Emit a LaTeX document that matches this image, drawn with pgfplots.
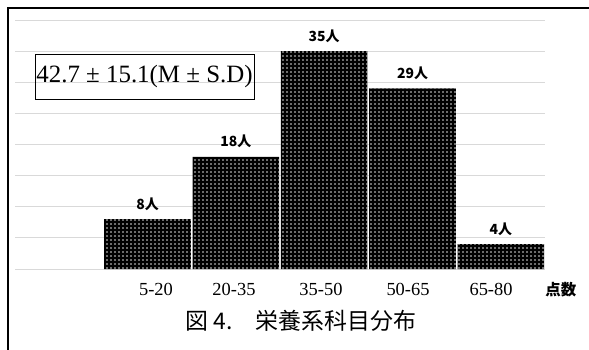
\documentclass[border=0pt]{standalone}
\usepackage{pgfplots}
\pgfplotsset{compat=1.18}
\usepackage{fontspec}
\setmainfont{Liberation Serif}
\newfontfamily\cjk{Noto Sans CJK JP}
\usetikzlibrary{patterns}

% white screen dots on a black fill
\pgfdeclarepatternformonly{screendots}{\pgfqpoint{0bp}{0bp}}{\pgfqpoint{4.4bp}{4.4bp}}{\pgfqpoint{4.4bp}{4.4bp}}{%
  \pgfpathrectangle{\pgfqpoint{1.55bp}{1.55bp}}{\pgfqpoint{1.3bp}{1.3bp}}\pgfusepath{fill}}

\pgfplotstableread{
x   n
1.5 8
2.5 18
3.5 35
4.5 29
5.5 4
}\scoredata

\begin{document}
\begin{tikzpicture}[x=1bp,y=1bp]
\useasboundingbox (0,0) rectangle (589,349);
\draw[line width=1.8bp] (8,-2) -- (8,341) -- (591,341);
\begin{axis}[
  at={(15bp,80bp)}, anchor=south west,
  scale only axis, width=530bp, height=249bp,
  xmin=0, xmax=6, ymin=0, ymax=40,
  ytick={0,5,...,40}, yticklabels={},
  ymajorgrids, grid style={draw=black!15, line width=0.9bp},
  axis line style={draw=none}, major tick length=0pt,
  xtick={1.596,2.479,3.464,4.449,5.389},
  xticklabels={5-20,20-35,35-50,50-65,65-80},
  xticklabel style={anchor=base, yshift=-26bp, font=\fontsize{18.5}{18.5}\selectfont},
  xlabel={\cjk\bfseries 点数},
  xlabel style={at={(axis description cs:1.030,-0.1044)}, anchor=base, font=\fontsize{15.5}{15.5}\selectfont},
  clip=false,
  nodes near coords={\cjk\bfseries\pgfmathprintnumber[assume math mode=true]{\pgfplotspointmeta}人},
  every node near coord/.append style={anchor=base, yshift=10bp, font=\fontsize{14}{14}\selectfont},
]
\addplot[ybar, bar width=0.98, fill=black, draw=none,
  postaction={pattern=screendots, pattern color=white}] table[x=x, y=n] {\scoredata};
\end{axis}
\node[draw, line width=0.7bp, minimum width=219bp, minimum height=45bp, inner sep=0pt,
  font=\fontsize{25}{25}\selectfont] at (144.5,272.5) {42.7 ± 15.1(M ± S.D)};
\node[font=\cjk\fontsize{23}{23}\selectfont] at (301,28) {図 4.　栄養系科目分布};
\end{tikzpicture}
\end{document}
